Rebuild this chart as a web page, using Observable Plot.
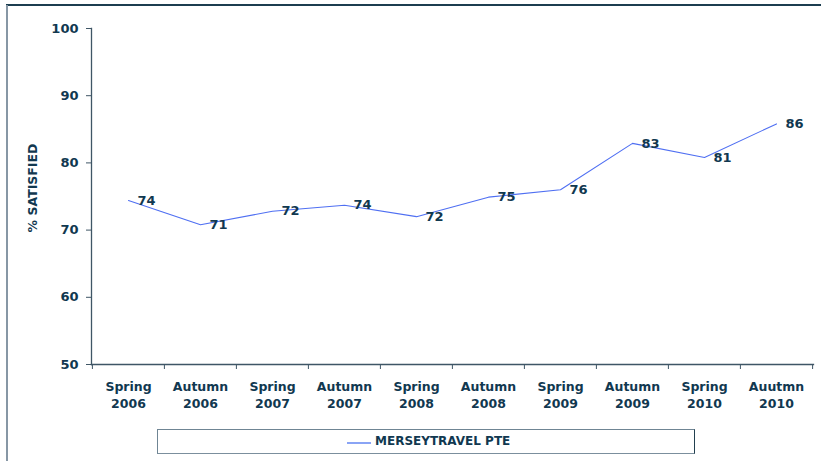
<!DOCTYPE html>
<html>
<head>
<meta charset="utf-8">
<script src="https://cdn.jsdelivr.net/npm/d3@7"></script>
<script src="https://cdn.jsdelivr.net/npm/@observablehq/plot@0.6"></script>
<style>
  html, body { margin: 0; padding: 0; background: #fff; }
  #wrap { position: relative; width: 821px; height: 461px; overflow: hidden;
          font-family: "DejaVu Sans", Verdana, sans-serif; font-weight: bold; color: #113850; }
  #topline { position: absolute; left: 6px; top: 4px; width: 815px; height: 2px; background: #1c3e50; }
  #leftline { position: absolute; left: 6px; top: 5px; width: 2px; height: 456px; background: #8797a5; }
  #ytitle { position: absolute; left: 32px; top: 188px; transform: translate(-50%, -50%) rotate(-90deg);
            font-size: 12.5px; white-space: nowrap; }
  #legend { position: absolute; left: 157px; top: 429px; width: 536px; height: 23px;
            border-top: 1.5px solid #6f8594; border-left: 1.5px solid #6f8594;
            border-bottom: 1.5px solid #7b8f9d; border-right: 1.5px solid #22404f; }
  #legend .sw { position: absolute; left: 189px; top: 11.5px; width: 24px; height: 2px; background: #8aa4f5; }
  #legend .lab { position: absolute; left: 217px; top: 4px; font-size: 12px; white-space: nowrap; }
  #chart { position: absolute; left: 0; top: 0; }
</style>
</head>
<body>
<div id="wrap">
  <div id="chart"></div>
  <div id="topline"></div>
  <div id="leftline"></div>
  <div id="ytitle">% SATISFIED</div>
  <div id="legend"><div class="sw"></div><div class="lab">MERSEYTRAVEL PTE</div></div>
</div>
<script>
const categories = ["Spring 2006","Autumn 2006","Spring 2007","Autumn 2007","Spring 2008",
                    "Autumn 2008","Spring 2009","Autumn 2009","Spring 2010","Auutmn 2010"];
const values = [74.4, 70.8, 72.8, 73.7, 72.0, 74.9, 76.0, 82.9, 80.8, 85.8];
const valueLabels = ["74","71","72","74","72","75","76","83","81","86"];
const yTicks = [50, 60, 70, 80, 90, 100];
const seriesName = "MERSEYTRAVEL PTE";

const data = categories.map((c, i) => ({cat: c, v: values[i], lab: valueLabels[i]}));

const W = 821, H = 420, mL = 91, mR = 8, mT = 28, mB = 56;
const bw = (W - mL - mR) / categories.length;
const textColor = "#113850";
const axisColor = "#3f5666";

const chart = Plot.plot({
  width: W, height: H,
  marginLeft: mL, marginRight: mR, marginTop: mT, marginBottom: mB,
  style: {fontFamily: "'DejaVu Sans', Verdana, sans-serif", fontWeight: "bold", fontSize: "13px", color: textColor, background: "transparent"},
  x: {type: "band", domain: categories, padding: 0},
  y: {domain: [50, 100]},
  marks: [
    Plot.frame({anchor: "left", stroke: axisColor, strokeWidth: 1.3}),
    Plot.frame({anchor: "bottom", stroke: axisColor, strokeWidth: 1.3}),
    Plot.axisY({ticks: yTicks, tickSize: 5, tickPadding: 8, label: null, fontSize: 13, stroke: axisColor, fill: textColor}),
    Plot.axisX({tickSize: 0, tickPadding: 15, label: null, fontSize: 12.5, lineHeight: 1.32, fill: textColor,
                tickFormat: d => d.replace(" ", "\n")}),
    Plot.axisX({tickSize: 5, text: null, label: null, dx: -bw / 2, stroke: axisColor}),
    Plot.axisX({ticks: [categories[categories.length - 1]], tickSize: 5, text: null, label: null, dx: bw / 2, stroke: axisColor}),
    Plot.line(data, {x: "cat", y: "v", stroke: "#4f6ff2", strokeWidth: 1.1}),
    Plot.text(data, {x: "cat", y: "v", text: "lab", dx: 9, dy: 0, textAnchor: "start", lineAnchor: "middle",
                     fontSize: 13, fontWeight: "bold", fill: textColor})
  ]
});
document.getElementById("chart").appendChild(chart);
</script>
</body>
</html>
